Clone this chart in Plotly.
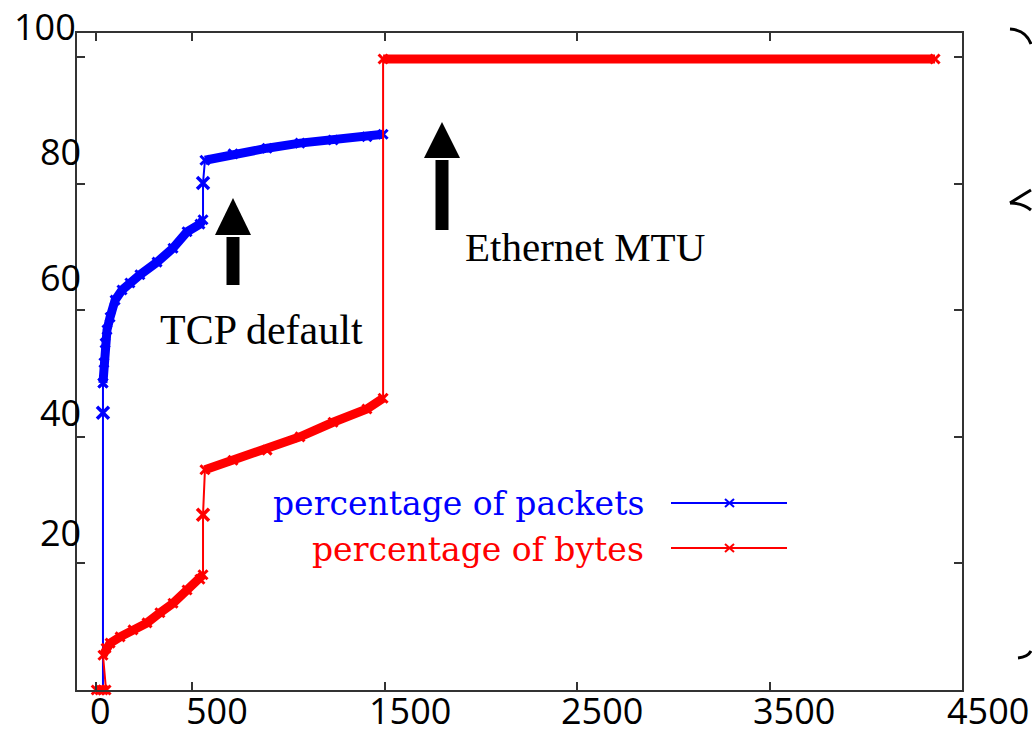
import plotly.graph_objects as go

# ---- data (packet size in bytes vs cumulative %) ----
# percentage of packets
pkt_ack_size = [35, 35]
pkt_ack_pct = [0, 43.8]
pkt_small_size = [35, 35, 40, 46, 56, 72, 98, 134, 175, 227, 316, 399, 472, 539, 555]
pkt_small_pct = [48.5, 48.5, 51.7, 54.8, 56.9, 58.9, 61.6, 63.2, 64.3, 65.6, 67.6, 69.8, 72.4, 73.6, 74.3]
pkt_mid_size = [555]
pkt_mid_pct = [80.1]
pkt_large_size = [565, 711, 888, 1059, 1231, 1407, 1491]
pkt_large_pct = [83.7, 84.7, 85.6, 86.4, 86.9, 87.4, 87.8]

# percentage of bytes
byt_ack_size = [0, 20, 35, 51]
byt_ack_pct = [0, 0, 0, 0]
byt_small_size = [35, 51, 72, 124, 191, 264, 331, 399, 472, 539, 555]
byt_small_pct = [5.5, 6.6, 7.4, 8.4, 9.5, 10.6, 12.2, 13.7, 15.8, 17.5, 18.2]
byt_mid_size = [555]
byt_mid_pct = [27.7]
byt_large_size = [565, 711, 888, 1059, 1231, 1407, 1491]
byt_large_pct = [34.8, 36.3, 37.9, 40.0, 42.3, 44.4, 46.1]
byt_mtu_size = [1491, 4360]
byt_mtu_pct = [99.7, 99.7]

x_ticks = [0, 500, 1500, 2500, 3500, 4500]
y_ticks = [0, 20, 40, 60, 80, 100]
x_labels = ["0", "500", "1500", "2500", "3500", "4500"]
y_labels = ["100", "80", "60", "40", "20"]

BLUE = "#0000ff"
RED = "#ff0000"

fig = go.Figure()


def add_series(all_segments, thick_segments, mids, color):
    # thin connecting line through everything
    xs, ys = [], []
    for sx, sy in all_segments:
        xs += sx
        ys += sy
    fig.add_trace(go.Scatter(x=xs, y=ys, mode="lines",
                             line=dict(color=color, width=2), showlegend=False,
                             hoverinfo="skip"))
    # dense parts drawn as thick bands
    for sx, sy in thick_segments:
        fig.add_trace(go.Scatter(x=sx, y=sy, mode="lines+markers",
                                 line=dict(color=color, width=9),
                                 marker=dict(symbol="x-thin", size=9,
                                             line=dict(color=color, width=3)),
                                 showlegend=False, cliponaxis=False))
    for mx, my in mids:
        fig.add_trace(go.Scatter(x=mx, y=my, mode="markers",
                                 marker=dict(symbol="x-thin", size=12,
                                             line=dict(color=color, width=3.5)),
                                 showlegend=False, cliponaxis=False))


add_series([(pkt_ack_size, pkt_ack_pct), (pkt_small_size, pkt_small_pct),
            (pkt_mid_size, pkt_mid_pct), (pkt_large_size, pkt_large_pct)],
           [(pkt_small_size, pkt_small_pct), (pkt_large_size, pkt_large_pct)],
           [(pkt_ack_size[1:], pkt_ack_pct[1:]), (pkt_mid_size, pkt_mid_pct)], BLUE)
add_series([(byt_ack_size, byt_ack_pct), (byt_small_size, byt_small_pct),
            (byt_mid_size, byt_mid_pct), (byt_large_size, byt_large_pct),
            (byt_mtu_size, byt_mtu_pct)],
           [(byt_ack_size, byt_ack_pct), (byt_small_size, byt_small_pct),
            (byt_large_size, byt_large_pct), (byt_mtu_size, byt_mtu_pct)],
           [(byt_mid_size, byt_mid_pct)], RED)

# ---- layout helpers (screen pixel -> paper) ----
W, H = 1032, 734
L, R, T, B = 77, 962, 33, 690   # plot-area edges in screen pixels


def px(x):
    return (x - L) / (R - L)


def py(y):
    return (B - y) / (B - T)


shapes = []
annotations = []

# arrows
for cx, tip, base, bottom in [(233, 198, 235, 285), (442, 122, 158, 230)]:
    shapes.append(dict(type="rect", xref="paper", yref="paper",
                       x0=px(cx - 6.5), x1=px(cx + 6.5), y0=py(bottom), y1=py(base + 2),
                       fillcolor="black", line=dict(width=0)))
    shapes.append(dict(type="path", xref="paper", yref="paper",
                       path=f"M {px(cx-18)},{py(base)} L {px(cx+18)},{py(base)} L {px(cx)},{py(tip)} Z",
                       fillcolor="black", line=dict(width=0)))

# legend samples
for yy, color in [(503, BLUE), (548, RED)]:
    shapes.append(dict(type="line", xref="paper", yref="paper",
                       x0=px(671), x1=px(787), y0=py(yy), y1=py(yy),
                       line=dict(color=color, width=2)))
    for d in (1, -1):
        shapes.append(dict(type="line", xref="paper", yref="paper",
                           x0=px(725), x1=px(734), y0=py(yy - 4 * d), y1=py(yy + 4 * d),
                           line=dict(color=color, width=2)))


def curve(p0, c, p1):
    return (f"M {px(p0[0])},{py(p0[1])} Q {px(c[0])},{py(c[1])} "
            f"{px(p1[0])},{py(p1[1])}")


# brace fragments at right edge
for p0, c, p1 in [((1010, 29), (1026, 30), (1031, 44)),
                  ((1031, 190), (1021, 196), (1010, 203)),
                  ((1010, 203), (1023, 203), (1031, 210)),
                  ((1018, 658), (1028, 657), (1031, 651))]:
    shapes.append(dict(type="path", xref="paper", yref="paper", path=curve(p0, c, p1),
                       line=dict(color="black", width=3)))

# axis labels (pasted text)
for lab, (xx, yy) in zip(y_labels, [(78, 27), (83, 151), (83, 277), (83, 412), (83, 532)]):
    annotations.append(dict(text=lab, xref="paper", yref="paper", x=px(xx), y=py(yy),
                            xanchor="right", yanchor="middle", showarrow=False,
                            font=dict(family="Open Sans", size=36, color="black")))
for lab, xx in zip(x_labels, [100, 217, 410, 602, 794, 988]):
    annotations.append(dict(text=lab, xref="paper", yref="paper", x=px(xx), y=py(710),
                            xanchor="center", yanchor="middle", showarrow=False,
                            font=dict(family="Open Sans", size=36, color="black")))

annotations.append(dict(text="TCP default", xref="paper", yref="paper", x=px(261), y=py(330),
                        xanchor="center", yanchor="middle", showarrow=False,
                        font=dict(family="Liberation Serif", size=42, color="black")))
annotations.append(dict(text="Ethernet MTU", xref="paper", yref="paper", x=px(585), y=py(247),
                        xanchor="center", yanchor="middle", showarrow=False,
                        font=dict(family="Liberation Serif", size=41, color="black")))
annotations.append(dict(text="percentage of packets", xref="paper", yref="paper", x=px(646), y=py(503),
                        xanchor="right", yanchor="middle", showarrow=False,
                        font=dict(family="DejaVu Serif", size=33, color=BLUE)))
annotations.append(dict(text="percentage of bytes", xref="paper", yref="paper", x=px(646), y=py(549),
                        xanchor="right", yanchor="middle", showarrow=False,
                        font=dict(family="DejaVu Serif", size=33, color=RED)))

axis_common = dict(showline=True, linecolor="#333333", linewidth=2, mirror="ticks",
                   ticks="inside", ticklen=8, tickwidth=1.5, tickcolor="#333333",
                   showticklabels=False, showgrid=False, zeroline=False)

fig.update_layout(
    width=W, height=H,
    margin=dict(l=L, r=W - R, t=T, b=H - B),
    paper_bgcolor="white", plot_bgcolor="white",
    xaxis=dict(range=[-100, 4500], tickvals=x_ticks, **axis_common),
    yaxis=dict(range=[0, 103.8], tickvals=y_ticks, **axis_common),
    shapes=shapes, annotations=annotations, showlegend=False,
)

fig.write_html("out.html", config={"displayModeBar": False},
               post_script="document.body.style.margin='0';document.body.style.overflow='hidden';")
